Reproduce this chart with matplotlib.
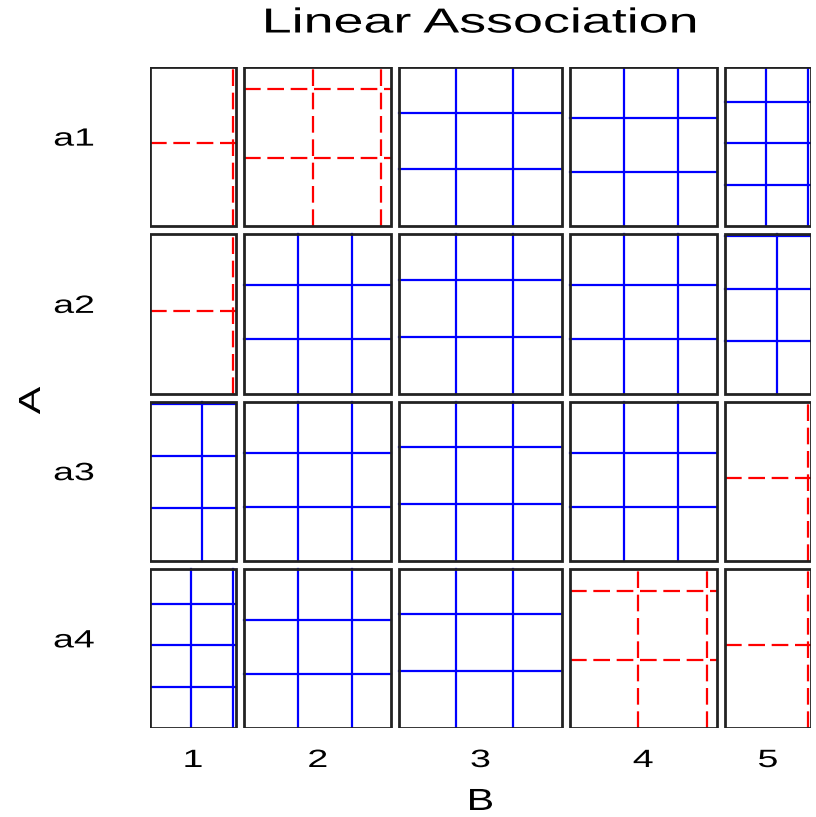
import numpy as np
import matplotlib
matplotlib.use("Agg")
import matplotlib.pyplot as plt
from matplotlib import patheffects
from matplotlib.patches import Rectangle
from matplotlib.transforms import Affine2D


A_LEVELS = ["a1", "a2", "a3", "a4"]
B_LEVELS = ["1", "2", "3", "4", "5"]
# observed frequencies, rows = A, columns = B
COUNTS_A1 = [2, 5, 8, 8, 8]
COUNTS_A2 = [2, 8, 8, 8, 5]
COUNTS_A3 = [5, 8, 8, 8, 2]
COUNTS_A4 = [8, 8, 8, 5, 2]
TITLE = "Linear Association"


class Stretch(patheffects.AbstractPathEffect):
    # widen glyphs along the baseline, keeping the text centred
    def __init__(self, sx):
        super().__init__()
        self.sx = sx

    def draw_path(self, renderer, gc, tpath, affine, rgbFace=None):
        ext = tpath.get_extents()
        cx = (ext.x0 + ext.x1) / 2
        t = Affine2D().translate(-cx, 0).scale(self.sx, 1).translate(cx, 0) + affine
        renderer.draw_path(gc, tpath, t, rgbFace)


def label(ax, x, y, s, size, sx, **kw):
    ax.text(x, y, s, fontsize=size, ha="center", va="center", clip_on=False,
            family="Liberation Sans", path_effects=[Stretch(sx)], **kw)


obs = np.array([COUNTS_A1, COUNTS_A2, COUNTS_A3, COUNTS_A4], dtype=float)
n_rows, n_cols = obs.shape
total = obs.sum()
row_sum = obs.sum(axis=1)
col_sum = obs.sum(axis=0)

SIZE = 661   # plotting square, in pixels
GAP = 8
col_w = col_sum / total * (SIZE - GAP * (n_cols - 1))
row_h = row_sum / total * (SIZE - GAP * (n_rows - 1))
x_left = np.concatenate([[0], np.cumsum(col_w + GAP)[:-1]])
y_top = SIZE - np.concatenate([[0], np.cumsum(row_h + GAP)[:-1]])

fig = plt.figure(figsize=(8.16, 8.17), dpi=100)
ax = fig.add_axes([150 / 816, 89 / 817, SIZE / 816, SIZE / 817])
ax.set_xlim(0, SIZE)
ax.set_ylim(0, SIZE)
ax.axis("off")

for i in range(n_rows):
    for j in range(n_cols):
        x0, w = x_left[j], col_w[j]
        h = row_h[i]
        y0 = y_top[i] - h
        expected = row_sum[i] * col_sum[j] / total
        if obs[i, j] >= expected:
            color, ls = "#0000FF", "-"
        else:
            color, ls = "#FF0000", (0, (7.5, 3))
        side = np.sqrt(w * h / obs[i, j])
        k = 1
        while k * side <= w + 1e-6:
            ax.plot([x0 + k * side] * 2, [y0, y0 + h], color=color, ls=ls, lw=1.6, zorder=2)
            k += 1
        k = 1
        while k * side <= h + 1e-6:
            ax.plot([x0, x0 + w], [y0 + k * side] * 2, color=color, ls=ls, lw=1.6, zorder=2)
            k += 1
        ax.add_patch(Rectangle((x0, y0), w, h, fill=False, ec="#222222", lw=2.0, zorder=3))

for i, name in enumerate(A_LEVELS):
    label(ax, -76, y_top[i] - row_h[i] / 2 + 8, name, 18, 1.5)
for j, name in enumerate(B_LEVELS):
    label(ax, x_left[j] + col_w[j] / 2, -32, name, 18, 1.5)

label(ax, SIZE / 2, -74, "B", 22, 1.35)
label(ax, -118, SIZE / 2 - 3, "A", 22, 1.35, rotation=90)
label(ax, SIZE / 2, SIZE + 44, TITLE, 25, 1.55)

fig.savefig("out.png", dpi=100, facecolor="white")
